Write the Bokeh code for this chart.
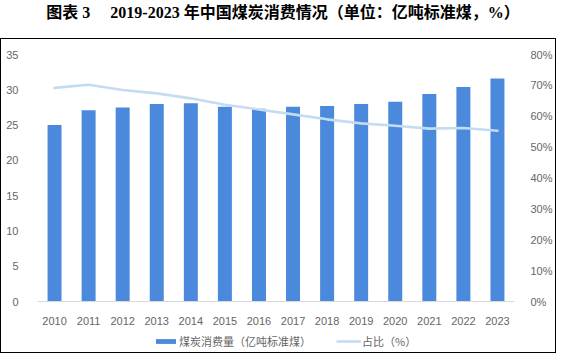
from bokeh.plotting import figure
from bokeh.models import (ColumnDataSource, Range1d, LinearAxis, Legend, LegendItem,
                          NumeralTickFormatter, Div, FixedTicker)
from bokeh.layouts import column
from bokeh.embed import file_html
from bokeh.resources import INLINE

years = ["2010", "2011", "2012", "2013", "2014", "2015", "2016",
         "2017", "2018", "2019", "2020", "2021", "2022", "2023"]
coal = [25.0, 27.1, 27.5, 28.0, 28.1, 27.6, 27.3,
        27.6, 27.7, 28.0, 28.3, 29.4, 30.4, 31.6]
share = [0.692, 0.702, 0.685, 0.674, 0.658, 0.637, 0.622,
         0.606, 0.590, 0.577, 0.569, 0.560, 0.562, 0.553]
title_text = "图表 3\u3000 2019-2023 年中国煤炭消费情况（单位：亿吨标准煤，%）"
bar_label = "煤炭消费量（亿吨标准煤）"
line_label = "占比（%）"

BAR_COLOR = "#4a89dc"
LINE_COLOR = "#c5dbf2"

src = ColumnDataSource(dict(year=years, coal=coal, share=share))

p = figure(x_range=years, y_range=Range1d(0, 35), width=554, height=292,
           output_backend="svg", toolbar_location=None,
           min_border_left=36, min_border_right=41, min_border_top=15,
           min_border_bottom=30)
p.outline_line_color = None
p.xgrid.grid_line_color = None
p.ygrid.grid_line_color = None
p.x_range.range_padding = 0.0

p.extra_y_ranges = {"pct": Range1d(0, 0.8)}
right = LinearAxis(y_range_name="pct", formatter=NumeralTickFormatter(format="0%"),
                   ticker=FixedTicker(ticks=[0, .1, .2, .3, .4, .5, .6, .7, .8]))
p.add_layout(right, "right")

p.yaxis[0].ticker = FixedTicker(ticks=[0, 5, 10, 15, 20, 25, 30, 35])

for ax in [p.yaxis[0], right]:
    ax.axis_line_color = None
    ax.major_tick_line_color = None
    ax.minor_tick_line_color = None
    ax.major_label_text_font = "Liberation Sans"
    ax.major_label_text_font_size = "11px"
    ax.major_label_text_color = "#666666"
p.yaxis[0].major_label_standoff = 13
right.major_label_standoff = 10

xa = p.xaxis[0]
xa.axis_line_color = "#d9d9d9"
xa.axis_line_width = 1
xa.major_tick_line_color = None
xa.minor_tick_line_color = None
xa.major_label_text_font = "Liberation Sans"
xa.major_label_text_font_size = "11px"
xa.major_label_text_color = "#666666"
xa.major_label_standoff = 9

p.vbar(x="year", top="coal", width=0.41, source=src,
       fill_color=BAR_COLOR, line_color=None)
p.line(x="year", y="share", source=src, y_range_name="pct",
       line_color=LINE_COLOR, line_width=2.6, line_join="round", line_cap="round")

# legend strip (a small figure whose renderers are hidden; only the legend shows)
q = figure(x_range=years, y_range=Range1d(0, 35), width=554, height=21,
           output_backend="svg", toolbar_location=None,
           x_axis_type=None, y_axis_type=None,
           min_border_left=0, min_border_right=0, min_border_top=0,
           min_border_bottom=0)
q.outline_line_color = None
lb = q.vbar(x="year", top="coal", width=0.41, source=src,
            fill_color=BAR_COLOR, line_color=None, visible=False)
ll = q.line(x="year", y="coal", source=src, line_color=LINE_COLOR,
            line_width=2.6, visible=False)
legend = Legend(items=[LegendItem(label=bar_label, renderers=[lb]),
                       LegendItem(label=line_label, renderers=[ll])],
                orientation="horizontal", location=(116, 3),
                label_text_font="Noto Sans CJK SC", label_text_font_size="11px",
                label_text_color="#666666", glyph_width=25, glyph_height=6,
                label_height=14, label_standoff=1, spacing=25, margin=0, padding=2,
                border_line_color=None, background_fill_alpha=0,
                inactive_fill_alpha=0)
q.add_layout(legend)

title = Div(text=title_text, width=556, height=28,
            styles={"font-family": "'Liberation Serif', 'Noto Sans CJK SC'",
                    "font-weight": "bold", "font-size": "16px",
                    "text-align": "center", "line-height": "16px",
                    "width": "556px"})

box = column(p, q, width=556, height=315, spacing=0,
             styles={"border": "1px solid #000000"})
layout = column(title, box, spacing=0)
open("out.html", "w").write(file_html(layout, INLINE))
